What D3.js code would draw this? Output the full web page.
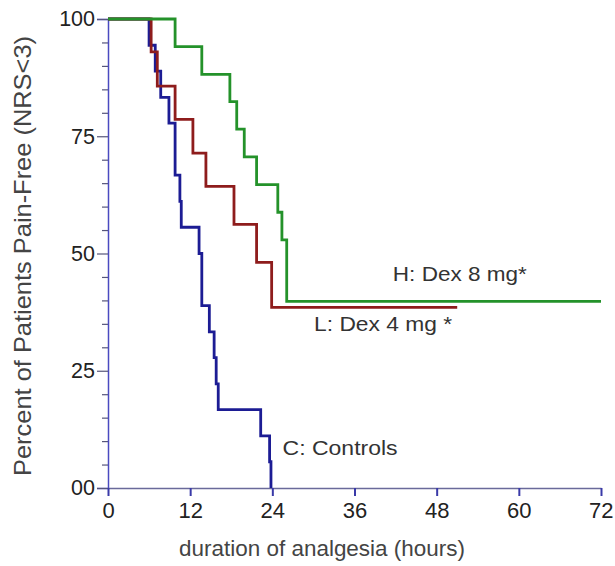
<!DOCTYPE html>
<html>
<head>
<meta charset="utf-8">
<script src="https://cdn.jsdelivr.net/npm/d3@7"></script>
<style>
  html, body { margin: 0; padding: 0; background: #fff; overflow: hidden; }
  svg { display: block; }
  text { font-family: "Liberation Sans", Arial, sans-serif; }
</style>
</head>
<body>
<svg id="chart"></svg>
<script>
// Kaplan-Meier style step data
var hoursC = [0, 6.0, 6.9, 7.7, 8.9, 9.8, 10.5, 10.7, 13.3, 13.7, 14.8, 15.5, 15.8, 16.1, 22.3, 23.6, 23.8],
  pctC = [100, 94.4, 88.9, 83.3, 77.8, 66.7, 61.1, 55.6, 50, 38.9, 33.3, 27.8, 22.2, 16.7, 11.1, 5.6, 0];
var hoursL = [0, 6.3, 7.2, 9.8, 12.4, 14.3, 18.4, 21.7, 23.9, 51],
  pctL = [100, 93, 85.7, 78.6, 71.4, 64.3, 56.2, 48.1, 38.5, 38.5];
var hoursH = [0, 9.8, 13.7, 17.8, 18.8, 19.9, 21.7, 24.8, 25.4, 26.1, 72],
  pctH = [100, 94.1, 88.2, 82.4, 76.5, 70.6, 64.7, 58.8, 52.9, 39.8, 39.8];

var xTicks = [0, 12, 24, 36, 48, 60, 72],
  yTicks = [0, 25, 50, 75, 100],
  yTickLabels = ['00', '25', '50', '75', '100'];

var groupNames = ['H: Dex 8 mg*', 'L: Dex 4 mg *', 'C: Controls'];

var width = 615,
  height = 566,
  margin = { top: 19, right: 14, bottom: 78, left: 108 },
  innerWidth = width - margin.left - margin.right,
  innerHeight = height - margin.top - margin.bottom;

var svg = d3.select('#chart').attr('width', width).attr('height', height);

var x = d3.scaleLinear().domain([0, 72]).range([0, innerWidth]),
  y = d3.scaleLinear().domain([0, 100]).range([innerHeight, 0]);

var g = svg.append('g').attr('transform', `translate(${margin.left}, ${margin.top})`);

// minor y ticks every 5%
var minor = d3.range(5, 100, 5).filter((v) => v % 25 !== 0);
g.append('g')
  .call(d3.axisLeft(y).tickValues(minor).tickSize(6).tickFormat(''))
  .call((s) => s.select('.domain').remove())
  .selectAll('line').attr('stroke', '#55557a').attr('stroke-width', 1.2);

var yAxis = g.append('g')
  .call(d3.axisLeft(y).tickValues(yTicks).tickSize(11).tickPadding(2)
    .tickFormat((d, i) => yTickLabels[i]));
yAxis.select('.domain').attr('stroke', '#4a4ac0').attr('stroke-width', 1.5);
yAxis.selectAll('line').attr('stroke', '#55557a').attr('stroke-width', 1.2);
yAxis.selectAll('text').attr('font-size', 21.5).attr('fill', '#222');

var xAxis = g.append('g')
  .attr('transform', `translate(0, ${innerHeight})`)
  .call(d3.axisBottom(x).tickValues(xTicks).tickSize(8).tickPadding(6).tickSizeOuter(0));
xAxis.select('.domain').attr('stroke', '#6a6a9a').attr('stroke-width', 1.5);
xAxis.selectAll('line').attr('stroke', '#3a3aa8').attr('stroke-width', 2);
xAxis.selectAll('text').attr('font-size', 22).attr('fill', '#222');
// keep the last label inside the window
xAxis.selectAll('text').filter((d) => d === 72)
  .attr('text-anchor', 'end').attr('x', 12);

// curves
var line = d3.line().x((d) => x(d[0])).y((d) => y(d[1])).curve(d3.curveStepAfter);
var series = [
  { h: hoursC, p: pctC, color: '#1c1c94' },
  { h: hoursL, p: pctL, color: '#8e1c1c' },
  { h: hoursH, p: pctH, color: '#24922a' }
];
series.forEach(function (s) {
  g.append('path')
    .attr('d', line(d3.zip(s.h, s.p)))
    .attr('fill', 'none')
    .attr('stroke', s.color)
    .attr('stroke-width', 2.8)
    .attr('stroke-linejoin', 'miter');
});

// group labels (hour, percent at baseline)
var labelPos = [[41.6, 44.2], [30.1, 33.4], [25.5, 7]];
groupNames.forEach(function (name, i) {
  g.append('text')
    .attr('x', x(labelPos[i][0]))
    .attr('y', y(labelPos[i][1]))
    .attr('font-size', 21)
    .attr('textLength', [134, 138, 115][i])
    .attr('lengthAdjust', 'spacingAndGlyphs')
    .attr('fill', '#333')
    .text(name);
});

// axis titles
svg.append('text')
  .attr('x', 322)
  .attr('y', 556)
  .attr('text-anchor', 'middle')
  .attr('font-size', 22.5)
  .attr('textLength', 286)
  .attr('lengthAdjust', 'spacingAndGlyphs')
  .attr('fill', '#444')
  .text('duration of analgesia (hours)');

svg.append('text')
  .attr('transform', `translate(31, 256) rotate(-90)`)
  .attr('text-anchor', 'middle')
  .attr('font-size', 24)
  .attr('textLength', 440)
  .attr('lengthAdjust', 'spacingAndGlyphs')
  .attr('fill', '#444')
  .text('Percent of Patients Pain-Free (NRS<3)');
</script>
</body>
</html>
